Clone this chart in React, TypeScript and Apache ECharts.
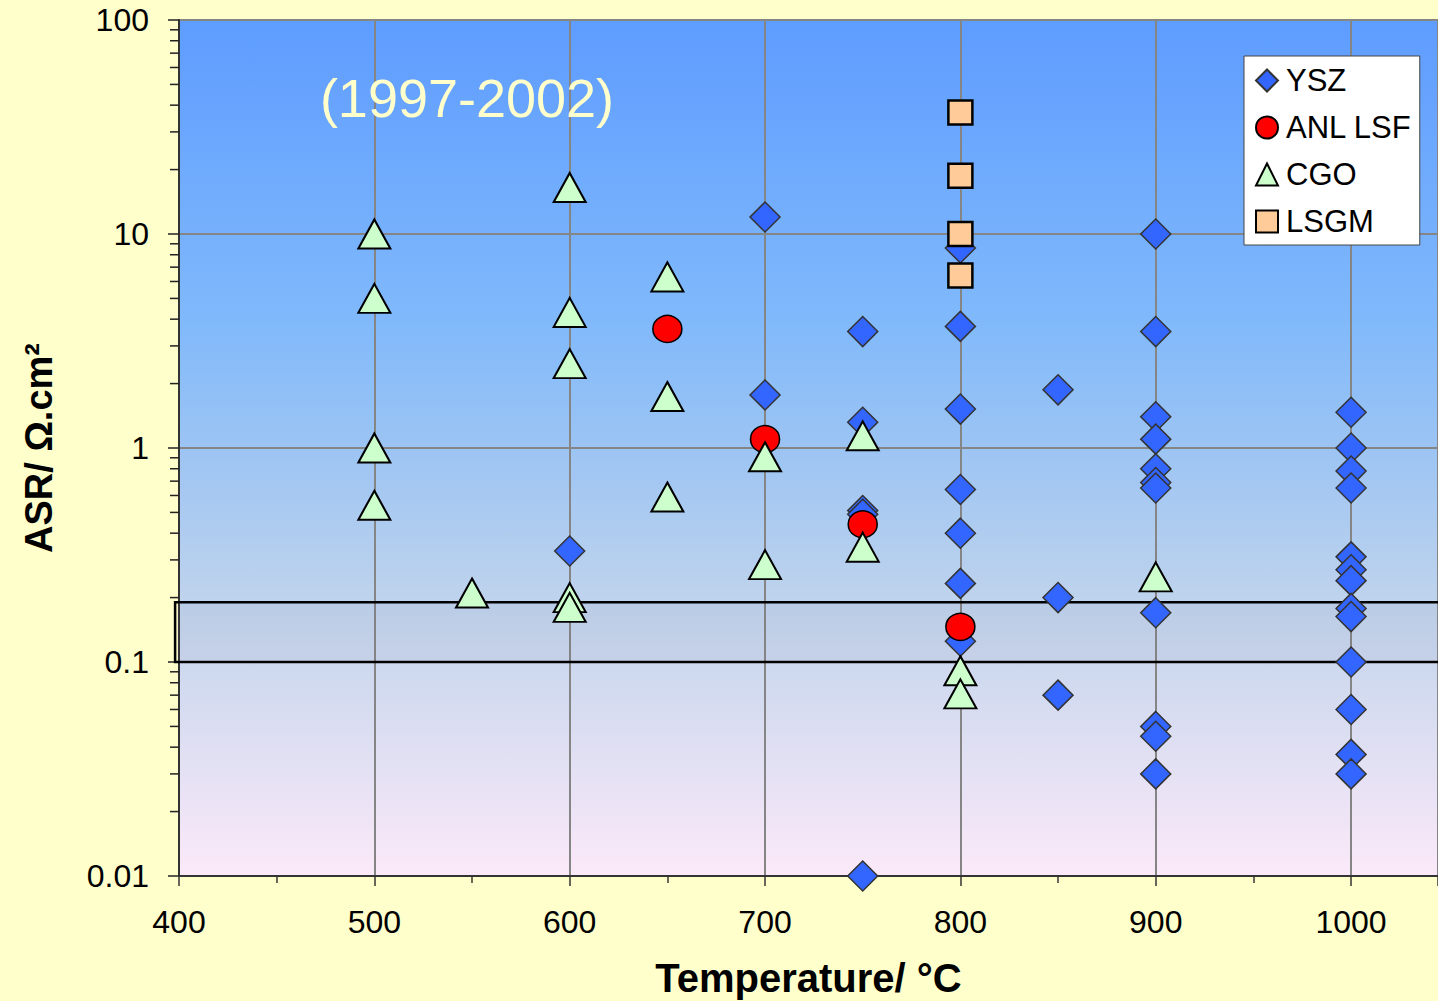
import React, { useEffect, useRef } from "react";
import * as echarts from "echarts";

// ---- data (temperature °C, ASR Ω·cm²) ----
const ysz: [number, number][] = [
  [600, 0.33],
  [700, 12], [700, 1.77],
  [750, 3.5], [750, 1.32], [750, 0.51], [750, 0.49], [750, 0.01],
  [800, 8.6], [800, 3.7], [800, 1.52], [800, 0.64], [800, 0.4], [800, 0.233], [800, 0.125],
  [850, 1.87], [850, 0.2], [850, 0.07],
  [900, 10], [900, 3.5], [900, 1.4], [900, 1.1], [900, 0.8], [900, 0.69], [900, 0.65],
  [900, 0.17], [900, 0.05], [900, 0.045], [900, 0.03],
  [1000, 1.47], [1000, 1.0], [1000, 0.78], [1000, 0.65], [1000, 0.31], [1000, 0.27],
  [1000, 0.24], [1000, 0.178], [1000, 0.163], [1000, 0.1], [1000, 0.06], [1000, 0.037], [1000, 0.03],
];
const anlLsf: [number, number][] = [
  [650, 3.6], [700, 1.1], [750, 0.44], [800, 0.146],
];
const cgo: [number, number][] = [
  [500, 10], [500, 5], [500, 1], [500, 0.54],
  [550, 0.21],
  [600, 16.5], [600, 4.3], [600, 2.48], [600, 0.2], [600, 0.18],
  [650, 6.3], [650, 1.74], [650, 0.59],
  [700, 0.91], [700, 0.285],
  [750, 1.14], [750, 0.344],
  [800, 0.091], [800, 0.071],
  [900, 0.25],
];
const lsgm: [number, number][] = [
  [800, 37], [800, 18.7], [800, 10], [800, 6.4],
];

const seriesNames = ["YSZ", "ANL LSF", "CGO", "LSGM"];
const yTickLabels: Record<string, string> = { "0.01": "0.01", "0.1": "0.1", "1": "1", "10": "10", "100": "100" };
const targetBand: [number, number, number, number][] = [[398, 0.1, 1060, 0.19]];
const decades = [0.01, 0.1, 1, 10];
const minorMultipliers = [2, 3, 4, 5, 6, 7, 8, 9];
const title = "(1997-2002)";
const xName = "Temperature/ °C";
const yName = "ASR/ Ω.cm²";

const FONT = "Liberation Sans, Arial, sans-serif";

export default function App() {
  const ref = useRef<HTMLDivElement>(null);
  useEffect(() => {
    if (!ref.current) return;
    const chart = echarts.init(ref.current, undefined, { renderer: "svg" });
    const minorY = decades.flatMap((d) => minorMultipliers.map((m) => [400, +(d * m).toPrecision(3)]));

    const option: any = {
      animation: false,
      backgroundColor: "#ffffcc",
      textStyle: { fontFamily: FONT },
      grid: {
        left: 179,
        top: 20,
        right: 0,
        bottom: 125,
        show: true,
        borderWidth: 0,
        containLabel: false,
        outerBoundsMode: "none",
        backgroundColor: new echarts.graphic.LinearGradient(0, 0, 0, 1, [
          { offset: 0, color: "#5e9cff" },
          { offset: 0.35, color: "#80b9fb" },
          { offset: 0.5, color: "#9cc4f3" },
          { offset: 0.7, color: "#c3d5ec" },
          { offset: 1, color: "#fbe9f9" },
        ]),
      },
      graphic: [
        {
          type: "text",
          x: 467,
          y: 98,
          style: {
            text: title,
            fill: "#ffffcc",
            font: `54px ${FONT}`,
            textAlign: "center",
            textVerticalAlign: "middle",
          },
          z: 10,
        },
      ],
      legend: {
        data: seriesNames,
        orient: "vertical",
        left: 1244,
        top: 56,
        padding: [9, 8, 8, 11],
        itemGap: 16,
        itemWidth: 22,
        itemHeight: 22,
        backgroundColor: "#ffffff",
        borderColor: "#444",
        borderWidth: 1,
        borderRadius: 0,
        textStyle: { fontSize: 31, lineHeight: 30, color: "#000", fontFamily: FONT, padding: [0, 0, 0, 3] },
      },
      xAxis: {
        type: "value",
        min: 400,
        max: 1044.5,
        interval: 100,
        axisLine: { show: true, onZero: false, lineStyle: { color: "#333", width: 2 } },
        axisTick: { show: true, length: 10, lineStyle: { color: "#333", width: 1.5 } },
        minorTick: { show: true, splitNumber: 2, length: 7, lineStyle: { color: "#333", width: 1.5 } },
        splitLine: { show: true, lineStyle: { color: "#858585", width: 2 } },
        minorSplitLine: { show: false },
        axisLabel: {
          fontSize: 32,
          color: "#000",
          margin: 30,
          fontFamily: FONT,
          formatter: (v: number) => (v % 100 === 0 ? String(v) : ""),
        },
        name: xName,
        nameLocation: "middle",
        nameGap: 82,
        nameTextStyle: { fontSize: 40, fontWeight: "bold", color: "#000", fontFamily: FONT },
      },
      yAxis: {
        type: "log",
        logBase: 10,
        min: 0.01,
        max: 100,
        axisLine: { show: true, onZero: false, lineStyle: { color: "#333", width: 2 } },
        axisTick: { show: true, length: 11, lineStyle: { color: "#222", width: 1.5 } },
        minorTick: { show: false },
        splitLine: { show: true, lineStyle: { color: "#858585", width: 2 } },
        axisLabel: {
          fontSize: 32,
          color: "#000",
          margin: 30,
          fontFamily: FONT,
          formatter: (v: number) => yTickLabels[String(+v.toPrecision(3))] ?? "",
        },
        name: yName,
        nameLocation: "middle",
        nameGap: 121,
        nameTextStyle: { fontSize: 38, fontWeight: "bold", color: "#000", fontFamily: FONT },
      },
      series: [
        {
          type: "custom",
          silent: true,
          clip: false,
          z: 1,
          data: targetBand,
          encode: { x: [0, 2], y: [1, 3] },
          renderItem: (_p: any, api: any) => {
            const a = api.coord([api.value(0), api.value(3)]);
            const b = api.coord([api.value(2), api.value(1)]);
            return {
              type: "rect",
              shape: { x: a[0], y: a[1], width: b[0] - a[0], height: b[1] - a[1] },
              style: { fill: "rgba(100,110,140,0.06)", stroke: "#000", lineWidth: 2.5 },
            };
          },
        },
        {
          type: "custom",
          silent: true,
          clip: false,
          z: 1,
          data: minorY,
          renderItem: (_p: any, api: any) => {
            const p = api.coord([api.value(0), api.value(1)]);
            return {
              type: "line",
              shape: { x1: p[0] - 9, y1: p[1], x2: p[0], y2: p[1] },
              style: { stroke: "#222", lineWidth: 1.5 },
            };
          },
        },
        {
          name: "YSZ",
          type: "scatter",
          symbol: "diamond",
          symbolSize: 30,
          data: ysz,
          itemStyle: { color: "#3366ff", borderColor: "#333", borderWidth: 1.5, opacity: 1 },
          z: 2,
        },
        {
          name: "ANL LSF",
          type: "scatter",
          symbol: "circle",
          symbolSize: [29, 27],
          data: anlLsf,
          itemStyle: { color: "#ff0000", borderColor: "#000", borderWidth: 1.5, opacity: 1 },
          z: 3,
        },
        {
          name: "CGO",
          type: "scatter",
          symbol: "triangle",
          symbolSize: [32, 29],
          data: cgo,
          itemStyle: { color: "#ccffcc", borderColor: "#000", borderWidth: 2, opacity: 1 },
          z: 4,
        },
        {
          name: "LSGM",
          type: "scatter",
          symbol: "rect",
          symbolSize: 24,
          data: lsgm,
          itemStyle: { color: "#ffcc99", borderColor: "#000", borderWidth: 2.5, opacity: 1 },
          z: 5,
        },
      ],
    };
    chart.setOption(option);
    return () => chart.dispose();
  }, []);

  return (
    <div
      ref={ref}
      style={{ position: "absolute", left: 0, top: 0, width: 1438, height: 1001 }}
    />
  );
}
